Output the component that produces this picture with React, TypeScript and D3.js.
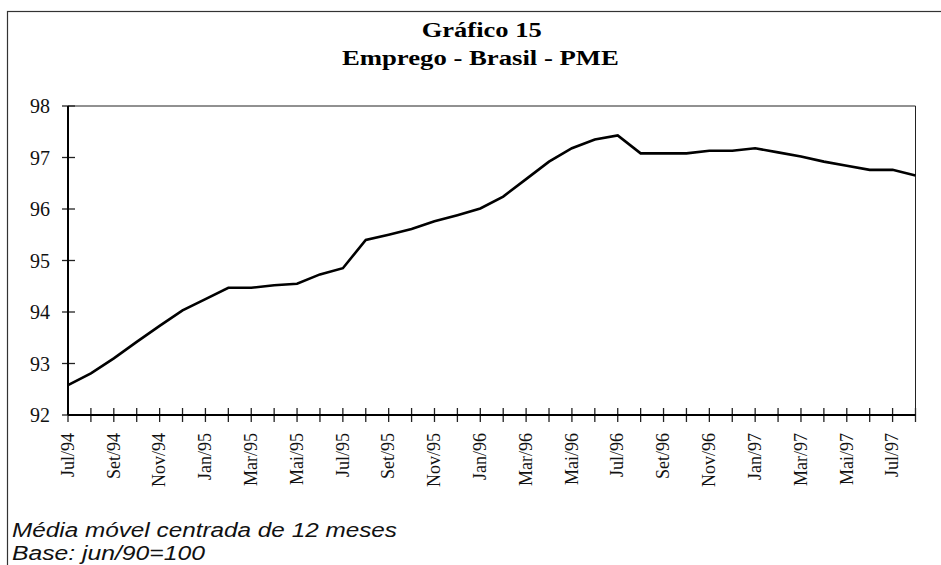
import React from "react";
import * as d3 from "d3";

const months: string[] = [
  "Jul/94", "Ago/94", "Set/94", "Out/94", "Nov/94", "Dez/94",
  "Jan/95", "Fev/95", "Mar/95", "Abr/95", "Mai/95", "Jun/95",
  "Jul/95", "Ago/95", "Set/95", "Out/95", "Nov/95", "Dez/95",
  "Jan/96", "Fev/96", "Mar/96", "Abr/96", "Mai/96", "Jun/96",
  "Jul/96", "Ago/96", "Set/96", "Out/96", "Nov/96", "Dez/96",
  "Jan/97", "Fev/97", "Mar/97", "Abr/97", "Mai/97", "Jun/97",
  "Jul/97", "Ago/97",
];

const emprego: number[] = [
  92.58, 92.81, 93.10, 93.42, 93.73, 94.03,
  94.25, 94.47, 94.47, 94.52, 94.55, 94.73,
  94.85, 95.40, 95.50, 95.61, 95.76, 95.88,
  96.01, 96.24, 96.58, 96.92, 97.18, 97.35,
  97.43, 97.08, 97.08, 97.08, 97.13, 97.13,
  97.18, 97.10, 97.02, 96.92, 96.84, 96.76,
  96.76, 96.65,
];

const yTicks: number[] = [92, 93, 94, 95, 96, 97, 98];

const title = "Gráfico 15";
const subtitle = "Emprego - Brasil - PME";
const note1 = "Média móvel centrada de 12 meses";
const note2 = "Base: jun/90=100";

export default function App() {
  const W = 941, H = 565;
  const left = 68, right = 915.5, top = 106, bottom = 415;
  const x = d3.scaleLinear().domain([0, months.length - 1]).range([left, right]);
  const y = d3.scaleLinear().domain([92, 98]).range([bottom, top]);
  const line = d3.line<number>().x((_, i) => x(i)).y((d) => y(d));
  const serif = "'Liberation Serif', 'Times New Roman', serif";
  const sans = "'Liberation Sans', Arial, sans-serif";

  return (
    <svg width={W} height={H} style={{ position: "absolute", left: 0, top: 0, background: "#fff" }}>
      <rect x={0} y={0} width={W} height={H} fill="#fff" />
      <rect x={7.5} y={11.5} width={1000} height={1000} fill="none" stroke="#333" strokeWidth={1.2} />

      <text x={481.7} y={37} textAnchor="middle" fontFamily={serif}
        fontWeight="bold" fontSize={20} textLength={120} lengthAdjust="spacingAndGlyphs">{title}</text>
      <text x={480.4} y={65} textAnchor="middle" fontFamily={serif}
        fontWeight="bold" fontSize={20} textLength={277} lengthAdjust="spacingAndGlyphs">{subtitle}</text>

      <line x1={left} x2={right} y1={top} y2={top} stroke="#222" strokeWidth={1} />
      <line x1={right} x2={right} y1={top} y2={bottom} stroke="#222" strokeWidth={1} />

      {yTicks.map((t) => (
        <g key={"y" + t}>
          <line x1={left - 6} x2={left + 7} y1={y(t)} y2={y(t)} stroke="#222" strokeWidth={1.3} />
          <text x={50} y={y(t)} dy="0.35em" textAnchor="end"
            fontFamily={serif} fontSize={20} fill="#111">{t}</text>
        </g>
      ))}

      {months.map((m, i) => (
        <g key={"x" + i}>
          <line x1={x(i)} x2={x(i)} y1={bottom - 7} y2={bottom + 7} stroke="#222" strokeWidth={1.3} />
          {i % 2 === 0 && (
            <text transform={`translate(${x(i)},${433}) rotate(-90)`} textAnchor="end" dy="0.32em"
              fontFamily={serif} fontSize={18} fill="#111">{m}</text>
          )}
        </g>
      ))}

      <line x1={left} x2={left} y1={top} y2={bottom} stroke="#000" strokeWidth={2} />
      <line x1={left} x2={right} y1={bottom} y2={bottom} stroke="#000" strokeWidth={2} />

      <path d={line(emprego) || ""} fill="none" stroke="#000" strokeWidth={2.6} strokeLinejoin="miter" />

      <text x={12} y={537} fontFamily={sans} fontStyle="italic" fontSize={20}
        textLength={385} lengthAdjust="spacingAndGlyphs" fill="#111">{note1}</text>
      <text x={12} y={560} fontFamily={sans} fontStyle="italic" fontSize={20}
        textLength={193} lengthAdjust="spacingAndGlyphs" fill="#111">{note2}</text>
    </svg>
  );
}
